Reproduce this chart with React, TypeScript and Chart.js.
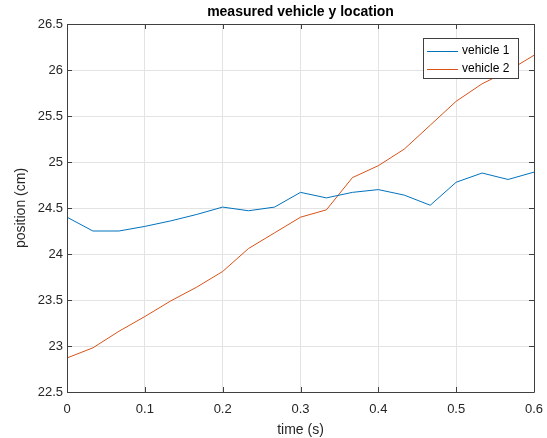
import React, { useEffect, useRef } from "react";
import { Chart, registerables } from "chart.js";

Chart.register(...registerables);

const titleText = "measured vehicle y location";
const xLabel = "time (s)";
const yLabel = "position (cm)";

const times = [0, 0.0333, 0.0667, 0.1, 0.1333, 0.1667, 0.2, 0.2333, 0.2667, 0.3, 0.3333, 0.3667, 0.4, 0.4333, 0.4667, 0.5, 0.5333, 0.5667, 0.6];
const vehicle1 = [24.40, 24.25, 24.25, 24.30, 24.36, 24.43, 24.51, 24.47, 24.51, 24.67, 24.61, 24.67, 24.70, 24.64, 24.53, 24.78, 24.88, 24.81, 24.89];
const vehicle2 = [22.87, 22.98, 23.16, 23.32, 23.49, 23.64, 23.81, 24.06, 24.23, 24.40, 24.48, 24.83, 24.96, 25.14, 25.40, 25.66, 25.85, 25.99, 26.16];
const seriesNames = ["vehicle 1", "vehicle 2"];
const seriesColors = ["#0072BD", "#D95319"];

const xTickValues = [0, 0.1, 0.2, 0.3, 0.4, 0.5, 0.6];
const xTickLabels = ["0", "0.1", "0.2", "0.3", "0.4", "0.5", "0.6"];
const yTickValues = [22.5, 23, 23.5, 24, 24.5, 25, 25.5, 26, 26.5];
const yTickLabels = ["22.5", "23", "23.5", "24", "24.5", "25", "25.5", "26", "26.5"];

const FONT = "'Liberation Sans', Arial, Helvetica, sans-serif";
const TEXT = "#262626";
const AXIS = "#404040";

const decorPlugin = {
  id: "decor",
  afterDraw(chart: any) {
    const { ctx, chartArea } = chart;
    const { left, right, top, bottom } = chartArea;
    const xs = chart.scales.x;
    const ys = chart.scales.y;
    ctx.save();
    // box
    ctx.strokeStyle = AXIS;
    ctx.lineWidth = 1;
    ctx.beginPath();
    ctx.rect(Math.round(left) + 0.5, Math.round(top) + 0.5, Math.round(right - left), Math.round(bottom - top));
    ctx.stroke();
    // inward ticks
    const tl = 5;
    ctx.beginPath();
    xTickValues.forEach((v) => {
      const px = Math.round(xs.getPixelForValue(v)) + 0.5;
      ctx.moveTo(px, bottom);
      ctx.lineTo(px, bottom - tl);
      ctx.moveTo(px, top);
      ctx.lineTo(px, top + tl);
    });
    yTickValues.forEach((v) => {
      const py = Math.round(ys.getPixelForValue(v)) + 0.5;
      ctx.moveTo(left, py);
      ctx.lineTo(left + tl, py);
      ctx.moveTo(right, py);
      ctx.lineTo(right - tl, py);
    });
    ctx.stroke();

    // title
    ctx.fillStyle = "#000";
    ctx.font = `bold 14px ${FONT}`;
    ctx.textAlign = "center";
    ctx.textBaseline = "middle";
    ctx.fillText(titleText, (left + right) / 2, 12);

    // axis labels
    ctx.fillStyle = TEXT;
    ctx.font = `14px ${FONT}`;
    ctx.fillText(xLabel, (left + right) / 2, 430);
    ctx.save();
    ctx.translate(21, (top + bottom) / 2);
    ctx.rotate(-Math.PI / 2);
    ctx.fillText(yLabel, 0, 0);
    ctx.restore();

    // legend
    const lx = 423, ly = 38, lw = 95, lh = 40;
    ctx.fillStyle = "#fff";
    ctx.fillRect(lx, ly, lw, lh);
    ctx.strokeStyle = AXIS;
    ctx.strokeRect(lx + 0.5, ly + 0.5, lw, lh);
    ctx.font = `12px ${FONT}`;
    ctx.textAlign = "left";
    seriesNames.forEach((name, i) => {
      const cy = 51 + i * 18;
      ctx.strokeStyle = seriesColors[i];
      ctx.beginPath();
      ctx.moveTo(427, cy + 0.5);
      ctx.lineTo(458, cy + 0.5);
      ctx.stroke();
      ctx.fillStyle = "#000";
      ctx.fillText(name, 462, cy);
    });
    ctx.restore();
  },
};

export default function App() {
  const ref = useRef<HTMLCanvasElement | null>(null);
  useEffect(() => {
    document.body.style.margin = "0";
    const canvas = ref.current;
    if (!canvas) return;
    const chart = new Chart(canvas, {
      type: "line",
      data: {
        datasets: [vehicle1, vehicle2].map((vals, i) => ({
          label: seriesNames[i],
          data: times.map((t, j) => ({ x: t, y: vals[j] })),
          borderColor: seriesColors[i],
          backgroundColor: seriesColors[i],
          borderWidth: 1,
          pointRadius: 0,
          tension: 0,
          fill: false,
        })),
      },
      options: {
        responsive: false,
        animation: false,
        devicePixelRatio: 1,
        layout: { padding: { left: 0, top: 24, right: 13, bottom: 0 } },
        plugins: { legend: { display: false }, title: { display: false }, tooltip: { enabled: false } },
        scales: {
          x: {
            type: "linear",
            min: 0,
            max: 0.6,
            afterBuildTicks: (s: any) => {
              s.ticks = xTickValues.map((v) => ({ value: v }));
            },
            afterFit: (s: any) => {
              s.height = 46;
              s.paddingLeft = 0;
              s.paddingRight = 0;
            },
            grid: { color: "#e3e3e3", drawTicks: false },
            border: { display: false },
            ticks: {
              padding: 10,
              color: TEXT,
              font: { family: FONT, size: 13 },
              maxRotation: 0,
              autoSkip: false,
              callback: (_v: any, i: number) => xTickLabels[i],
            },
          },
          y: {
            type: "linear",
            min: 22.5,
            max: 26.5,
            afterBuildTicks: (s: any) => {
              s.ticks = yTickValues.map((v) => ({ value: v }));
            },
            afterFit: (s: any) => {
              s.width = 67;
              s.paddingTop = 0;
              s.paddingBottom = 0;
            },
            grid: { color: "#e3e3e3", drawTicks: false },
            border: { display: false },
            ticks: {
              padding: 4,
              color: TEXT,
              font: { family: FONT, size: 13 },
              autoSkip: false,
              callback: (_v: any, i: number) => yTickLabels[i],
            },
          },
        },
      },
      plugins: [decorPlugin],
    });
    return () => chart.destroy();
  }, []);
  return (
    <div style={{ width: 547, height: 438, background: "#fff" }}>
      <canvas ref={ref} width={547} height={438} />
    </div>
  );
}
